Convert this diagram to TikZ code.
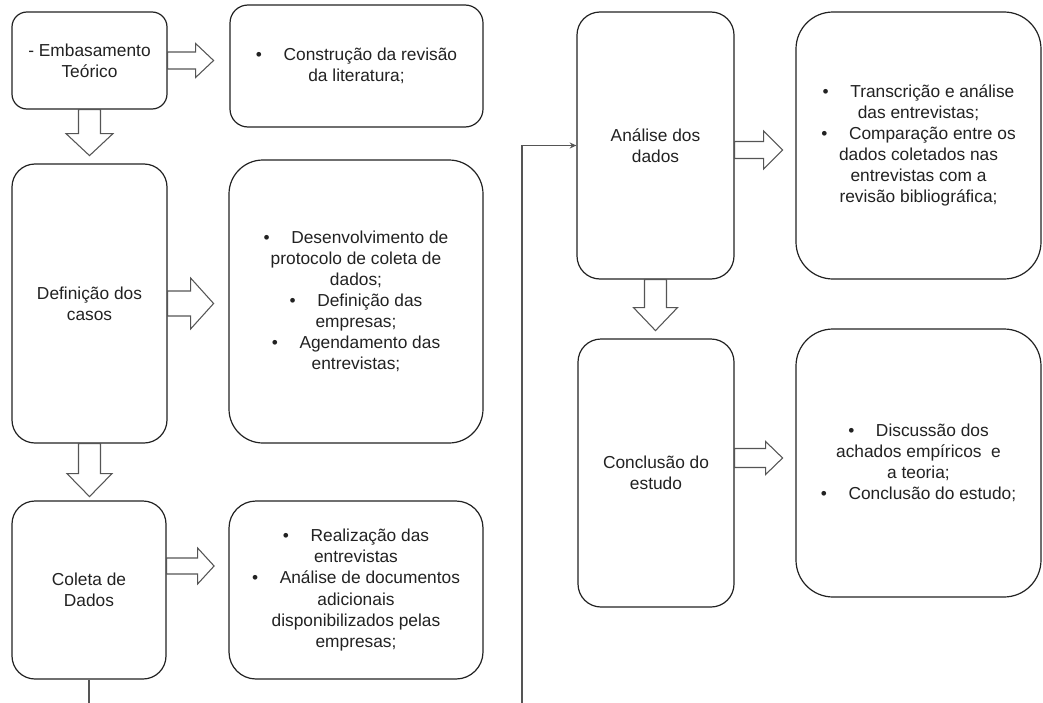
\documentclass[tikz,border=0pt]{standalone}
\usepackage{fontspec}
\setmainfont{Liberation Sans}
\usetikzlibrary{calc,arrows.meta}
\newcommand\mybul{•\hspace{1.25em}}
\newcommand\harrow[6]{% start, dy, h, H, L, K
  \draw[blk] ($(#1)+(0,#2-#3)$) -- ++(#5,0) -- ++(0,#3-#4) -- ++(#6,#4) -- ++(-#6,#4) -- ++(0,#3-#4) -- ++(-#5,0) -- cycle;}
\newcommand\varrow[5]{% start, h, H, L, K
  \draw[blk] ($(#1)+(-#2,0)$) -- ++(0,#4) -- ++(#2-#3,0) -- ++(#3,#5) -- ++(#3,-#5) -- ++(#2-#3,0) -- ++(0,-#4) -- cycle;}
\definecolor{ln}{HTML}{222222}
\definecolor{ag}{HTML}{555555}
\begin{document}
\begin{tikzpicture}[x=0.75pt,y=-0.75pt,
  box/.style={draw=ln,line width=0.9pt,fill=white,align=center,inner sep=0pt,
    text=ln,font=\fontsize{13}{15.8}\selectfont,rounded corners=#1*0.75pt},
  blk/.style={draw=ag,line width=0.8pt,fill=white,line join=miter},
  conn/.style={draw=ag,line width=0.9pt}]
\useasboundingbox (0,0) rectangle (1043,703);
% left column
\node[box=15,minimum width=155*0.75pt,minimum height=97*0.75pt] (A) at (89.5,60.5) {- Embasamento\\Teórico};
\node[box=18,minimum width=253*0.75pt,minimum height=122*0.75pt] (A2) at (356.5,66) {\mybul Construção da revisão\\da literatura;};
\node[box=23,minimum width=155*0.75pt,minimum height=279*0.75pt] (B) at (89.5,303.5) {Definição dos\\casos};
\node[box=34,minimum width=254*0.75pt,minimum height=283*0.75pt] (B2) at (356,301.5) {\mybul Desenvolvimento de\\protocolo de coleta de\\dados;\\\mybul Definição das\\empresas;\\\mybul Agendamento das\\entrevistas;};
\node[box=23,minimum width=154*0.75pt,minimum height=178*0.75pt] (C) at (89,590) {Coleta de\\Dados};
\node[box=27,minimum width=254*0.75pt,minimum height=178*0.75pt] (C2) at (356,590) {\mybul Realização das\\entrevistas\\\mybul Análise de documentos\\adicionais\\disponibilizados pelas\\empresas;};
% right column
\node[box=23,minimum width=157*0.75pt,minimum height=267*0.75pt] (D) at (655.5,145.5) {Análise dos\\dados};
\node[box=37,minimum width=245*0.75pt,minimum height=267*0.75pt] (D2) at (918.5,145.5) {\mybul Transcrição e análise\\das entrevistas;\\\mybul Comparação entre os\\dados coletados nas\\entrevistas com a\\revisão bibliográfica;};
\node[box=23,minimum width=156*0.75pt,minimum height=268*0.75pt] (E) at (656,473) {Conclusão do\\estudo};
\node[box=37,minimum width=245*0.75pt,minimum height=268*0.75pt] (E2) at (918.5,463) {\mybul Discussão dos\\achados empíricos\ \ e\\a teoria;\\\mybul Conclusão do estudo;};
% block arrows
\harrow{A.east}{0}{8.5}{17}{28}{18}
\harrow{B.east}{0}{12.5}{25.5}{23}{23}
\harrow{C.east}{-24}{8}{18}{31}{16.5}
\harrow{D.east}{4.5}{8.5}{19}{29}{19}
\harrow{E.east}{-15}{9.5}{16.5}{31}{17}
\varrow{A.south}{11}{23.5}{24}{22}
\varrow{B.south}{11}{22.5}{30}{23}
\varrow{D.south}{11}{22}{28}{23}
% connector split across the page
\coordinate (c1) at (89,703);
\coordinate (c2) at (522,703);
\draw[conn] (C.south) -- (c1);
\draw[conn,-{Stealth[length=5pt,width=4.5pt]}] (c2) |- (D.west);
\end{tikzpicture}
\end{document}
